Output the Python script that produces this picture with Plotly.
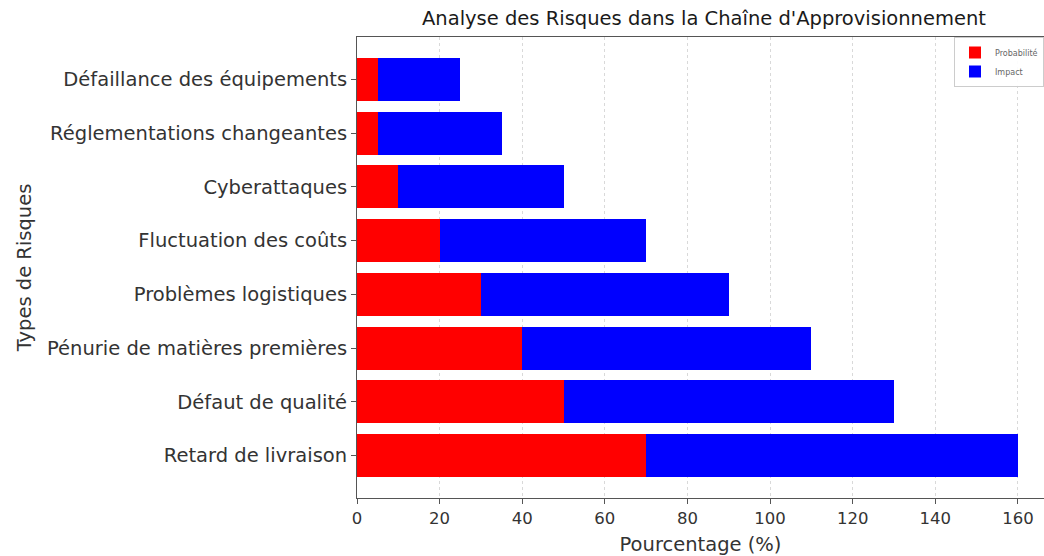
import plotly.graph_objects as go

# Risk categories, bottom to top
categories = [
    "Retard de livraison",
    "Défaut de qualité",
    "Pénurie de matières premières",
    "Problèmes logistiques",
    "Fluctuation des coûts",
    "Cyberattaques",
    "Réglementations changeantes",
    "Défaillance des équipements",
]
probabilite = [70, 50, 40, 30, 20, 10, 5, 5]
impact = [90, 80, 70, 60, 50, 40, 30, 20]
x_ticks = [0, 20, 40, 60, 80, 100, 120, 140, 160]

FONT = "DejaVu Sans"
TEXT = "#333333"
LABEL_SIZE = 19.5

fig = go.Figure()
fig.add_trace(go.Bar(
    y=categories, x=probabilite, name="Probabilité", orientation="h",
    marker=dict(color="#ff0000", line=dict(width=0)), width=0.8,
))
fig.add_trace(go.Bar(
    y=categories, x=impact, name="Impact", orientation="h",
    marker=dict(color="#0000ff", line=dict(width=0)), width=0.8,
))

fig.update_layout(
    width=1044, height=556,
    barmode="stack",
    plot_bgcolor="white", paper_bgcolor="white",
    margin=dict(l=357, r=0, t=37, b=58),
    font=dict(family=FONT, size=LABEL_SIZE, color=TEXT),
    title=dict(
        text="Analyse des Risques dans la Chaîne d'Approvisionnement",
        x=704 / 1044, xref="container", xanchor="center",
        y=1 - 18 / 556, yref="container", yanchor="middle",
        font=dict(family=FONT, size=LABEL_SIZE, color="#1a1a1a"),
    ),
    legend=dict(
        x=1, y=1, xanchor="right", yanchor="top",
        traceorder="normal",
        bgcolor="rgba(255,255,255,0.9)", bordercolor="#cccccc", borderwidth=1,
        font=dict(family=FONT, size=8, color="#666666"),
        itemwidth=30, tracegroupgap=0,
    ),
    bargap=0.2,
)
fig.update_xaxes(
    range=[0, 166.3], tickvals=x_ticks,
    showgrid=True, gridcolor="#d9d9d9", griddash="dot", gridwidth=1,
    showline=True, linecolor="#555555", linewidth=1, mirror=True,
    ticks="outside", ticklen=5, tickcolor="#555555",
    zeroline=False,
    title=dict(text="Pourcentage (%)", font=dict(family=FONT, size=LABEL_SIZE, color=TEXT), standoff=13),
    tickfont=dict(family=FONT, size=16.5, color=TEXT),
)
fig.update_yaxes(
    range=[-0.79, 7.79], showgrid=False,
    showline=True, linecolor="#555555", linewidth=1, mirror=True,
    ticks="outside", ticklen=5, tickcolor="#555555",
    title=dict(text="Types de Risques", font=dict(family=FONT, size=LABEL_SIZE, color=TEXT), standoff=10),
    tickfont=dict(family=FONT, size=LABEL_SIZE, color=TEXT),
)

fig.write_html("out.html")
